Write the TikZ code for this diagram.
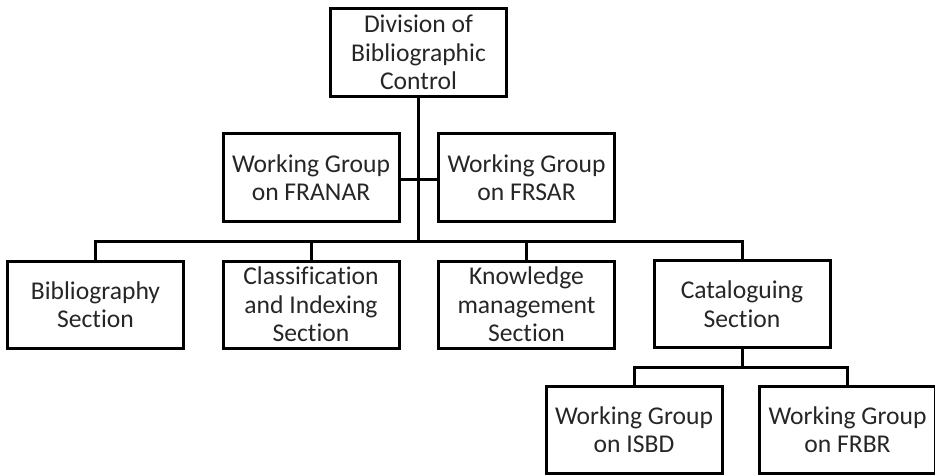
\documentclass[tikz,border=0pt]{standalone}
\usepackage{fontspec}
\setmainfont[Ligatures=CommonOff]{Carlito}
\begin{document}
\begin{tikzpicture}[x=1pt,y=-1pt,
  unit/.style={draw=black, line width=3pt, minimum width=176pt, minimum height=87pt,
    inner sep=0pt, align=center, font=\fontsize{25.6}{28.5}\selectfont, text=black!85},
  link/.style={draw=black, line width=3pt}]
\useasboundingbox (0,0) rectangle (935,476);
% top level
\node[unit, minimum height=88pt] (dbc) at (418.5,52.5) {Division of\\Bibliographic\\Control};
% working groups attached to the division
\node[unit] (franar) at (311,177.5) {Working Group\\on FRANAR};
\node[unit] (frsar) at (526.5,177.5) {Working Group\\on FRSAR};
% sections
\node[unit] (bib) at (95.5,304.5) {Bibliography\\Section};
\node[unit] (cls) at (311,304.5) {Classification\\and Indexing\\Section};
\node[unit] (km) at (526.5,304.5) {Knowledge\\management\\Section};
\node[unit] (cat) at (742,304) {Cataloguing\\Section};
% working groups of the cataloguing section
\node[unit] (isbd) at (634,429.5) {Working Group\\on ISBD};
\node[unit] (frbr) at (847.5,429.5) {Working Group\\on FRBR};
% junction points
\coordinate (hub) at (dbc.south |- 0,241);
\coordinate (cathub) at (cat.south |- 0,367);
% connectors
\draw[link] (dbc.south) -- (hub);
\draw[link] (franar.east |- 0,180) -- (frsar.west |- 0,180);
\draw[link] (bib.north) -- (bib.north |- hub) -- (cat.north |- hub) -- (cat.north);
\draw[link] (cls.north) -- (cls.north |- hub);
\draw[link] (km.north) -- (km.north |- hub);
\draw[link] (cat.south) -- (cathub);
\draw[link] (isbd.north) -- (isbd.north |- cathub) -- (frbr.north |- cathub) -- (frbr.north);
\end{tikzpicture}
\end{document}
